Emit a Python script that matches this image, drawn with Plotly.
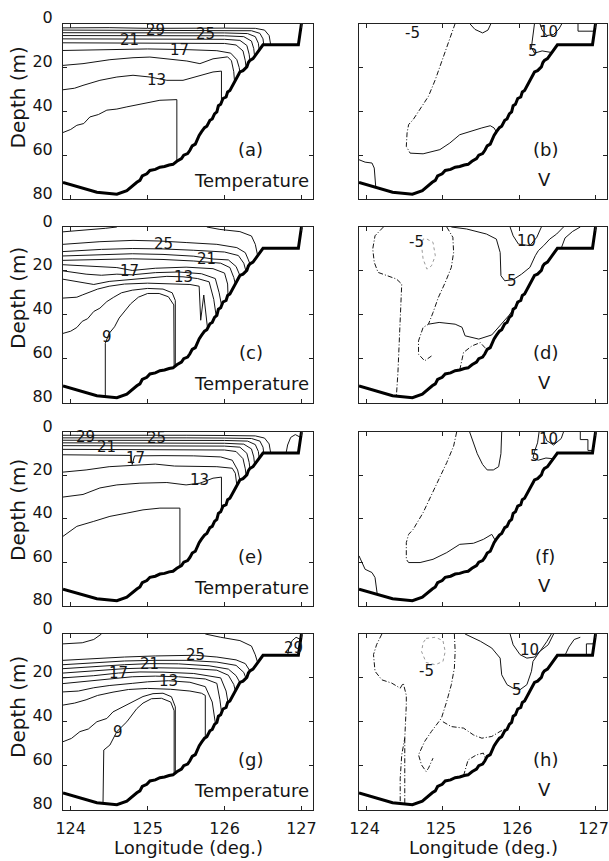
import plotly.graph_objects as go

FONT = "DejaVu Sans"

LON_TICKS = [124, 125, 126, 127]
DEPTH_TICKS = [0, 20, 40, 60, 80]
LON_RANGE = [123.9, 127.15]
DEPTH_RANGE = [80, 0]

# bottom topography (same in every panel)
BATHY_LON = [123.90, 124.12, 124.34, 124.60, 124.73, 124.86, 124.90, 124.93, 124.99, 125.03, 125.10,
             125.16, 125.22, 125.28, 125.33, 125.38, 125.44, 125.47, 125.52, 125.55, 125.58, 125.62,
             125.64, 125.67, 125.70, 125.74, 125.77, 125.81, 125.84, 125.87, 125.90, 125.92, 125.95,
             125.98, 126.02, 126.04, 126.07, 126.10, 126.12, 126.14, 126.17, 126.20, 126.24, 126.27,
             126.29, 126.31, 126.33, 126.37, 126.40, 126.43, 126.46, 126.48, 126.50, 126.96, 127.00]
BATHY_DEPTH = [72.5, 74.8, 76.9, 77.8, 76.2, 72.4, 71.5, 69.5, 68.5, 67.0, 66.5,
               65.5, 65.2, 64.5, 64.2, 62.8, 61.6, 60.0, 59.3, 57.8, 55.8, 55.0,
               53.3, 51.0, 49.4, 47.5, 46.8, 44.1, 43.5, 41.2, 40.3, 37.5, 36.8,
               34.2, 33.5, 31.2, 30.5, 28.5, 27.0, 25.9, 24.0, 22.1, 21.5, 20.6,
               19.8, 17.8, 16.8, 16.0, 14.5, 13.0, 11.5, 10.2, 9.7, 9.7, 0.0]

# ---- temperature contours: (level, lon, depth) ----
T_A = [
    (29, [123.9, 124.5, 125.0, 125.5, 126.0, 126.4, 126.52, 126.58, 126.6], [2.0, 1.9, 2.2, 2.0, 2.1, 2.2, 3.0, 5.5, 9.7]),
    (27, [123.9, 124.5, 125.0, 125.5, 126.0, 126.35, 126.46, 126.5, 126.51], [3.0, 3.0, 3.2, 3.0, 3.1, 3.3, 4.5, 7.0, 9.7]),
    (25, [123.9, 124.5, 125.0, 125.5, 126.0, 126.3, 126.4, 126.44, 126.45], [4.2, 4.2, 4.4, 4.3, 4.3, 4.6, 6.0, 9.0, 12.0]),
    (23, [123.9, 124.5, 125.0, 125.5, 126.0, 126.25, 126.35, 126.38, 126.39], [5.5, 5.5, 5.7, 5.6, 5.6, 6.0, 8.0, 11.5, 14.8]),
    (21, [123.9, 124.5, 125.0, 125.5, 126.0, 126.2, 126.29, 126.32, 126.33], [7.0, 7.0, 7.2, 7.1, 7.2, 7.7, 10.0, 14.0, 16.8]),
    (19, [123.9, 124.5, 125.0, 125.5, 126.0, 126.15, 126.24, 126.27, 126.28], [8.8, 8.8, 9.0, 8.9, 9.1, 9.8, 12.5, 17.0, 20.2]),
    (17, [123.9, 124.5, 125.0, 125.5, 125.9, 126.08, 126.16, 126.19, 126.2], [12.3, 12.0, 11.6, 11.9, 12.4, 13.5, 16.5, 20.0, 22.1]),
    (15, [123.9, 124.16, 124.51, 124.81, 125.03, 125.25, 125.51, 125.68, 125.85, 126.04, 126.09, 126.12, 126.13],
         [19.1, 18.3, 16.5, 15.6, 15.3, 16.1, 17.1, 18.3, 16.1, 15.2, 17.0, 22.0, 26.5]),
    (13, [123.9, 124.05, 124.16, 124.38, 124.6, 124.81, 125.03, 125.25, 125.46, 125.68, 125.85, 125.96, 125.96],
         [30.2, 29.5, 28.2, 25.9, 24.4, 23.6, 24.4, 25.9, 25.9, 23.6, 22.1, 21.7, 36.0]),
    (11, [123.9, 124.0, 124.08, 124.17, 124.25, 124.36, 124.47, 124.6, 124.73, 124.94, 125.16, 125.38, 125.38],
         [49.7, 48.3, 46.4, 45.6, 42.6, 41.5, 39.5, 39.0, 38.0, 36.5, 35.0, 34.7, 62.8]),
]
T_A_LABELS = [("29", 125.10, 2.9), ("25", 125.75, 4.7), ("21", 124.77, 7.7), ("17", 125.42, 12.3), ("13", 125.12, 25.6)]

T_C = [
    (27, [123.9, 124.2, 124.45, 124.6], [2.2, 1.5, 0.6, 0.0]),
    (27, [125.77, 125.94, 126.2, 126.35, 126.4, 126.43], [0.0, 1.1, 2.1, 4.1, 7.9, 13.0]),
    (25, [123.9, 124.38, 124.81, 125.16, 125.51, 125.9, 126.16, 126.27, 126.31, 126.33], [7.9, 6.7, 6.1, 6.4, 7.1, 7.9, 9.4, 11.7, 15.0, 16.8]),
    (23, [123.9, 124.4, 124.8, 125.2, 125.6, 126.0, 126.18, 126.25, 126.28], [11.2, 10.2, 9.8, 10.0, 10.6, 11.4, 13.0, 16.5, 20.3]),
    (21, [123.9, 124.4, 124.8, 125.2, 125.6, 125.85, 126.05, 126.15, 126.2], [13.2, 12.5, 12.2, 12.5, 13.3, 14.6, 15.0, 18.0, 22.1]),
    (19, [123.9, 124.4, 124.8, 125.2, 125.6, 125.95, 126.07, 126.12, 126.14], [15.2, 14.8, 14.5, 14.8, 15.5, 16.5, 18.5, 23.0, 25.9]),
    (17, [123.9, 124.3, 124.6, 124.8, 125.1, 125.5, 125.85, 126.0, 126.04, 126.045], [17.2, 18.0, 18.5, 19.8, 18.8, 18.3, 19.0, 21.0, 26.0, 31.2]),
    (15, [123.9, 124.2, 124.4, 124.6, 124.8, 125.1, 125.4, 125.7, 125.88, 125.93, 125.96], [20.0, 21.5, 22.0, 21.5, 21.8, 20.8, 20.5, 21.3, 23.5, 30.0, 35.5]),
    (13, [123.9, 124.1, 124.3, 124.5, 124.75, 125.0, 125.25, 125.46, 125.65, 125.8, 125.86, 125.89], [23.8, 25.0, 26.2, 24.8, 24.0, 23.3, 22.5, 22.7, 23.5, 25.0, 33.0, 40.3]),
    (11, [123.9, 124.08, 124.15, 124.25, 124.35, 124.5, 124.7, 125.0, 125.3, 125.55, 125.67, 125.69, 125.73, 125.78],
         [32.4, 32.0, 31.0, 29.5, 28.3, 27.0, 26.0, 25.6, 25.8, 26.2, 27.0, 42.5, 31.0, 46.5]),
    (10, [123.9, 124.0, 124.08, 124.15, 124.22, 124.3, 124.38, 124.47, 124.56, 124.66, 124.8, 125.0, 125.2, 125.32, 125.36, 125.36],
         [48.5, 47.5, 45.8, 43.0, 41.8, 38.5, 37.0, 34.0, 32.0, 30.0, 28.8, 28.0, 28.3, 30.0, 33.5, 63.0]),
    (9, [124.45, 124.45, 124.5, 124.57, 124.63, 124.7, 124.78, 124.88, 125.0, 125.15, 125.27, 125.34, 125.345],
        [77.2, 53.0, 48.5, 45.5, 41.5, 38.5, 35.0, 32.0, 30.3, 30.3, 31.8, 35.5, 63.8]),
]
T_C_LABELS = [("25", 125.2, 7.9), ("21", 125.77, 14.6), ("17", 124.77, 20.0), ("13", 125.46, 22.7), ("9", 124.47, 50.0)]

T_E = [
    (29, [123.9, 124.5, 125.0, 125.5, 126.0, 126.4, 126.52, 126.58, 126.6], [1.5, 1.4, 1.6, 1.5, 1.6, 1.8, 2.8, 5.5, 9.7]),
    (27, [123.9, 124.5, 125.0, 125.5, 126.0, 126.35, 126.46, 126.5, 126.51], [2.7, 2.6, 2.8, 2.7, 2.8, 3.0, 4.2, 7.0, 9.7]),
    (25, [123.9, 124.5, 125.0, 125.5, 126.0, 126.3, 126.4, 126.44, 126.45], [3.8, 3.8, 3.9, 3.8, 3.9, 4.2, 5.8, 9.0, 12.0]),
    (23, [123.9, 124.5, 125.0, 125.5, 126.0, 126.25, 126.35, 126.38, 126.39], [5.0, 5.0, 5.2, 5.1, 5.2, 5.6, 7.8, 11.5, 14.8]),
    (21, [123.9, 124.5, 125.0, 125.5, 126.0, 126.2, 126.29, 126.32, 126.33], [6.3, 6.3, 6.5, 6.4, 6.5, 7.0, 9.8, 14.0, 16.8]),
    (19, [123.9, 124.5, 125.0, 125.5, 126.0, 126.15, 126.24, 126.27, 126.28], [8.0, 8.0, 8.2, 8.1, 8.3, 9.0, 12.3, 17.0, 20.2]),
    (17, [123.9, 124.5, 124.78, 124.8, 124.83, 125.2, 125.6, 125.95, 126.1, 126.17, 126.2], [10.5, 10.6, 10.8, 15.0, 11.0, 10.9, 11.0, 11.5, 13.0, 17.5, 22.1]),
    (15, [123.9, 124.2, 124.5, 124.81, 125.1, 125.35, 125.68, 125.9, 126.1, 126.14, 126.16], [18.5, 17.5, 16.0, 15.2, 14.8, 15.7, 16.0, 16.0, 16.7, 19.0, 24.6]),
    (13, [123.9, 124.16, 124.38, 124.6, 124.9, 125.25, 125.5, 125.68, 125.85, 125.96, 125.96], [30.0, 28.8, 25.8, 24.4, 23.6, 23.3, 24.4, 23.6, 21.3, 20.8, 36.0]),
    (11, [123.9, 124.08, 124.3, 124.51, 124.73, 124.94, 125.16, 125.42, 125.42], [48.1, 43.5, 41.2, 38.9, 37.4, 35.9, 35.1, 35.1, 62.0]),
    (29, [126.8, 126.82, 126.86, 126.92, 126.99], [9.7, 6.0, 2.5, 1.2, 2.5]),
]
T_E_LABELS = [("29", 124.19, 2.1), ("21", 124.47, 6.7), ("25", 125.12, 2.9), ("17", 124.84, 12.1), ("13", 125.68, 22.0)]

T_G = [
    (27, [123.9, 124.15, 124.3, 124.4], [4.5, 4.0, 2.5, 0.0]),
    (27, [125.75, 125.95, 126.2, 126.35, 126.4, 126.43], [0.0, 1.5, 3.0, 5.5, 9.5, 13.0]),
    (25, [123.9, 124.3, 124.7, 125.1, 125.5, 125.62, 125.9, 126.15, 126.27, 126.31, 126.33], [12.0, 11.2, 10.5, 10.0, 9.8, 9.7, 10.5, 11.8, 13.5, 15.5, 16.8]),
    (23, [123.9, 124.3, 124.7, 125.1, 125.5, 125.9, 126.15, 126.25, 126.28], [14.0, 13.0, 12.3, 12.0, 12.0, 12.8, 14.3, 17.5, 20.3]),
    (21, [123.9, 124.3, 124.7, 125.03, 125.4, 125.8, 126.05, 126.15, 126.2], [15.8, 14.8, 14.0, 13.5, 13.6, 14.5, 16.0, 19.0, 22.1]),
    (19, [123.9, 124.3, 124.7, 125.1, 125.5, 125.9, 126.05, 126.12, 126.14], [17.8, 16.8, 15.8, 15.4, 15.6, 16.5, 18.8, 23.0, 25.9]),
    (17, [123.9, 124.3, 124.62, 124.9, 125.2, 125.6, 125.95, 126.02, 126.045], [20.0, 19.0, 17.8, 17.3, 17.4, 18.0, 20.0, 26.0, 31.2]),
    (15, [123.9, 124.2, 124.5, 124.8, 125.1, 125.4, 125.75, 125.9, 125.94, 125.96], [22.6, 21.5, 20.3, 19.5, 19.2, 19.5, 20.5, 22.5, 30.0, 35.5]),
    (13, [123.9, 124.1, 124.3, 124.5, 124.8, 125.0, 125.27, 125.55, 125.75, 125.84, 125.88], [26.4, 26.0, 24.5, 23.5, 22.5, 21.8, 21.3, 22.0, 24.0, 31.0, 40.5]),
    (11, [123.9, 124.05, 124.2, 124.35, 124.55, 124.75, 125.0, 125.3, 125.55, 125.7, 125.75, 125.75], [32.4, 31.5, 30.0, 28.0, 26.5, 25.3, 24.8, 25.2, 26.0, 27.0, 28.0, 47.0]),
    (10, [123.9, 124.01, 124.12, 124.23, 124.34, 124.47, 124.55, 124.68, 124.81, 124.94, 125.07, 125.2, 125.31, 125.36, 125.36],
         [49.1, 47.6, 44.5, 43.3, 40.0, 38.5, 35.5, 33.2, 30.6, 28.5, 27.2, 27.0, 28.6, 33.2, 63.0]),
    (9, [124.42, 124.43, 124.51, 124.6, 124.73, 124.86, 124.94, 125.05, 125.18, 125.3, 125.345, 125.345],
        [77.3, 52.9, 50.6, 44.5, 40.0, 34.0, 31.5, 29.5, 29.3, 31.0, 35.0, 63.8]),
    (29, [126.82, 126.84, 126.88, 126.93, 126.99], [9.7, 6.0, 3.0, 1.5, 2.5]),
]
T_G_LABELS = [("25", 125.62, 9.7), ("21", 125.03, 13.5), ("17", 124.62, 17.8), ("13", 125.27, 21.3), ("9", 124.62, 44.5), ("29", 126.9, 6.5)]

# ---- V contours: (level, lon, depth) ----
V_B = [
    (-5, [125.16, 125.1, 125.05, 124.98, 124.9, 124.81, 124.7, 124.61, 124.55, 124.53, 124.52, 124.57],
         [0.0, 5.8, 10.3, 18.0, 25.6, 33.2, 39.3, 43.8, 46.1, 49.9, 56.0, 59.1]),
    (0, [124.57, 124.74, 124.96, 125.09, 125.22, 125.35, 125.51, 125.62, 125.67, 125.7],
        [59.1, 59.4, 57.5, 54.5, 50.7, 49.2, 47.6, 46.6, 47.6, 49.4]),
    (0, [125.35, 125.42, 125.52, 125.59, 125.63], [0.0, 2.7, 4.3, 3.0, 0.0]),
    (0, [123.9, 123.98, 124.07, 124.1, 124.12], [62.1, 63.2, 63.6, 65.9, 74.8]),
    (5, [126.2, 126.19, 126.17, 126.16, 126.2, 126.3, 126.42], [0.0, 4.0, 8.0, 11.0, 13.5, 12.5, 13.2]),
    (10, [126.27, 126.3, 126.36, 126.45, 126.52, 126.56], [0.0, 3.0, 5.5, 5.0, 2.5, 0.0]),
    (10, [126.77, 126.77, 126.97], [0.0, 3.5, 3.5]),
]
V_B_LABELS = [("-5", 124.6, 4.5), ("10", 126.38, 3.8), ("5", 126.18, 12.6)]

V_D = [
    (-5, [124.22, 124.11, 124.08, 124.1, 124.15, 124.28, 124.39, 124.46, 124.45, 124.44, 124.42, 124.41, 124.39],
         [0.0, 4.0, 10.0, 16.1, 20.7, 22.2, 23.7, 26.0, 34.4, 45.1, 55.7, 66.4, 77.1]),
    (-5, [125.05, 125.13, 125.14, 125.11, 125.03, 124.94, 124.87, 124.81, 124.74, 124.68, 124.68, 124.76, 124.85],
         [0.0, 4.7, 11.6, 18.4, 25.3, 32.1, 39.0, 44.3, 45.8, 51.9, 58.0, 61.0, 58.8]),
    (0, [124.81, 124.95, 125.16, 125.25, 125.29, 125.47, 125.64, 125.75, 125.86, 125.97, 126.03],
        [44.3, 43.5, 44.3, 45.7, 49.6, 51.1, 49.2, 45.0, 40.5, 35.5, 32.6]),
    (-5, [125.22, 125.27, 125.38, 125.49, 125.55, 125.57], [65.2, 57.2, 54.2, 52.7, 55.0, 57.0]),
    (-10, [124.79, 124.87, 124.9, 124.85, 124.79, 124.74, 124.72, 124.74, 124.79], [5.5, 7.0, 13.1, 17.7, 19.2, 14.6, 8.5, 5.5, 5.5]),
    (5, [125.11, 125.31, 125.57, 125.7, 125.75, 125.76, 125.81, 125.92, 126.03, 126.14, 126.21, 126.25, 126.32, 126.4, 126.49, 126.58],
        [0.0, 0.9, 3.2, 5.5, 11.6, 22.2, 24.5, 24.0, 21.5, 18.4, 13.1, 10.8, 8.5, 5.5, 3.2, 0.0]),
    (10, [125.88, 125.92, 125.99, 126.14, 126.23, 126.29], [0.0, 4.0, 7.8, 8.5, 4.7, 0.0]),
    (5, [126.55, 126.6, 126.7, 126.8], [9.7, 5.0, 2.0, 0.0]),
]
V_D_LABELS = [("-5", 124.66, 7.0), ("10", 126.1, 6.2), ("5", 125.9, 24.5)]

V_F = [
    (-5, [125.18, 125.14, 125.05, 124.96, 124.85, 124.74, 124.61, 124.55, 124.52, 124.52, 124.55],
         [0.0, 6.5, 14.1, 21.0, 29.5, 37.2, 44.9, 47.2, 51.0, 58.7, 60.2]),
    (0, [124.55, 124.7, 124.87, 125.05, 125.22, 125.4, 125.53, 125.64, 125.69], [60.2, 60.2, 58.7, 55.6, 51.8, 51.3, 49.5, 47.2, 50.2]),
    (0, [125.35, 125.4, 125.45, 125.52, 125.58, 125.66, 125.73, 125.76, 125.77], [0.0, 5.0, 10.0, 15.0, 17.5, 17.5, 16.0, 10.0, 0.0]),
    (0, [123.9, 123.98, 124.07, 124.11, 124.14], [57.1, 63.3, 64.8, 67.1, 75.0]),
    (5, [126.26, 126.24, 126.2, 126.18, 126.25, 126.35, 126.44], [0.0, 5.0, 9.0, 12.0, 13.0, 12.0, 12.3]),
    (10, [126.32, 126.36, 126.45, 126.55, 126.58], [0.0, 4.0, 6.0, 3.0, 0.0]),
    (10, [126.8, 126.8, 126.9, 126.9, 126.97], [0.0, 3.5, 3.5, 8.5, 8.5]),
]
V_F_LABELS = [("10", 126.38, 3.4), ("5", 126.21, 11.1)]

V_H = [
    (-5, [124.2, 124.13, 124.09, 124.11, 124.2, 124.33, 124.44, 124.48, 124.52, 124.52, 124.5, 124.46, 124.44, 124.44],
         [0.0, 4.9, 9.4, 17.0, 20.9, 22.4, 24.7, 22.4, 28.0, 32.3, 47.5, 55.1, 65.8, 77.2]),
    (-5, [124.5, 124.5], [47.5, 77.4]),
    (-5, [125.15, 125.16, 125.15, 125.11, 125.05, 124.98, 124.85, 124.76, 124.68, 124.72, 124.78, 124.81, 124.87],
         [0.0, 7.9, 15.5, 23.1, 30.7, 38.4, 44.4, 49.0, 55.1, 59.7, 62.7, 61.2, 56.6]),
    (-5, [125.0, 125.11, 125.27, 125.4, 125.51, 125.64, 125.75, 125.85], [40.0, 42.2, 42.9, 46.0, 47.5, 46.7, 44.4, 42.7]),
    (-5, [125.27, 125.33, 125.44, 125.53, 125.56], [64.6, 57.4, 55.1, 54.3, 57.2]),
    (-10, [124.78, 124.9, 125.0, 125.03, 125.0, 124.9, 124.78, 124.72, 124.74, 124.78], [2.0, 1.5, 3.0, 8.0, 12.5, 14.0, 13.0, 8.0, 4.0, 2.0]),
    (5, [125.29, 125.49, 125.64, 125.75, 125.77, 125.84, 125.92, 126.01, 126.1, 126.16, 126.18, 126.27, 126.38, 126.45],
        [0.0, 3.3, 6.4, 11.0, 18.6, 23.1, 24.7, 25.4, 23.1, 17.0, 12.5, 7.9, 4.9, 0.0]),
    (10, [125.88, 125.92, 126.01, 126.1, 126.2, 126.28, 126.36, 126.42], [0.0, 4.9, 9.4, 11.0, 10.5, 7.5, 3.5, 0.0]),
    (5, [126.6, 126.65, 126.72, 126.8], [9.7, 6.0, 2.5, 1.5]),
    (10, [126.88, 126.88, 126.97], [9.7, 4.5, 4.5]),
]
V_H_LABELS = [("-5", 124.79, 17.0), ("10", 126.14, 7.2), ("5", 125.97, 25.4)]

PANELS = [
    ("(a)", "Temperature", T_A, T_A_LABELS),
    ("(b)", "V", V_B, V_B_LABELS),
    ("(c)", "Temperature", T_C, T_C_LABELS),
    ("(d)", "V", V_D, V_D_LABELS),
    ("(e)", "Temperature", T_E, T_E_LABELS),
    ("(f)", "V", V_F, V_F_LABELS),
    ("(g)", "Temperature", T_G, T_G_LABELS),
    ("(h)", "V", V_H, V_H_LABELS),
]

W, H = 609, 861
COLS = [(63 / W, 313 / W), (359 / W, 607 / W)]
ROWS_PX = [(23.5, 199), (227, 402.5), (432, 605.5), (634, 809.5)]
ROWS = [(1 - b / H, 1 - t / H) for t, b in ROWS_PX]
YTITLE_PX = [97.5, 298, 510, 707]

fig = go.Figure()
INK = "#151515"

for i, (letter, name, lines, labels) in enumerate(PANELS):
    n = i + 1
    xr = "x" if n == 1 else f"x{n}"
    yr = "y" if n == 1 else f"y{n}"
    is_v = name == "V"
    for level, lons, deps in lines:
        if is_v and level <= -10:
            dash, color = "dot", "#9a9a9a"
        elif is_v and level < 0:
            dash, color = "5px,2px,1px,2px", INK
        else:
            dash, color = "solid", INK
        fig.add_trace(go.Scatter(x=lons, y=deps, mode="lines", xaxis=xr, yaxis=yr,
                                 line=dict(color=color, width=1, dash=dash),
                                 showlegend=False, hoverinfo="skip"))
    fig.add_trace(go.Scatter(x=BATHY_LON, y=BATHY_DEPTH, mode="lines", xaxis=xr, yaxis=yr,
                             line=dict(color="#000", width=3), showlegend=False, hoverinfo="skip"))
    for txt, lon, dep in labels:
        fig.add_annotation(x=lon, y=dep, xref=xr, yref=yr, text=txt, showarrow=False,
                           xanchor="center", yanchor="middle",
                           font=dict(family=FONT, size=15, color=INK))
    fig.add_annotation(x=126.34, y=57.3, xref=xr, yref=yr, text=letter, showarrow=False,
                       xanchor="center", yanchor="middle",
                       font=dict(family=FONT, size=18, color=INK))
    if is_v:
        fig.add_annotation(x=126.33, y=71.0, xref=xr, yref=yr, text=name, showarrow=False,
                           xanchor="center", yanchor="middle",
                           font=dict(family=FONT, size=18, color=INK))
    else:
        fig.add_annotation(x=127.12, y=71.5, xref=xr, yref=yr, text=name, showarrow=False,
                           xanchor="right", yanchor="middle", font=dict(family=FONT, size=18, color=INK))

    row, col = i // 2, i % 2
    axis_common = dict(showline=True, linecolor="#222", linewidth=1, mirror="ticks",
                       ticks="inside", ticklen=4, tickcolor="#222", showgrid=False, zeroline=False,
                       automargin=False, ticklabeloverflow="allow",
                       tickfont=dict(family=FONT, size=16, color=INK))
    fig.update_layout(**{
        ("xaxis" if n == 1 else f"xaxis{n}"): dict(
            domain=list(COLS[col]), anchor=yr, range=LON_RANGE, tickvals=LON_TICKS,
            showticklabels=(row == 3), ticklabelstandoff=4,
            ticklabelshift=(-2 if col == 1 else 0), **axis_common),
        ("yaxis" if n == 1 else f"yaxis{n}"): dict(
            domain=list(ROWS[row]), anchor=xr, range=DEPTH_RANGE, tickvals=DEPTH_TICKS,
            showticklabels=(col == 0), ticklabelstandoff=6, ticklabelshift=6, **axis_common),
    })

for r in range(4):
    fig.add_annotation(x=18 / W, y=1 - YTITLE_PX[r] / H, xref="paper", yref="paper", text="Depth (m)",
                       textangle=-90, showarrow=False, xanchor="center", yanchor="middle",
                       font=dict(family=FONT, size=20, color=INK))
for c in range(2):
    fig.add_annotation(x=(COLS[c][0] + COLS[c][1]) / 2, y=1 - 847 / H, xref="paper", yref="paper",
                       text="Longitude (deg.)", showarrow=False, xanchor="center", yanchor="middle",
                       font=dict(family=FONT, size=18, color=INK))

fig.update_layout(width=W, height=H, margin=dict(l=0, r=0, t=0, b=0, autoexpand=False),
                  paper_bgcolor="white", plot_bgcolor="white")
fig.write_html("out.html")
